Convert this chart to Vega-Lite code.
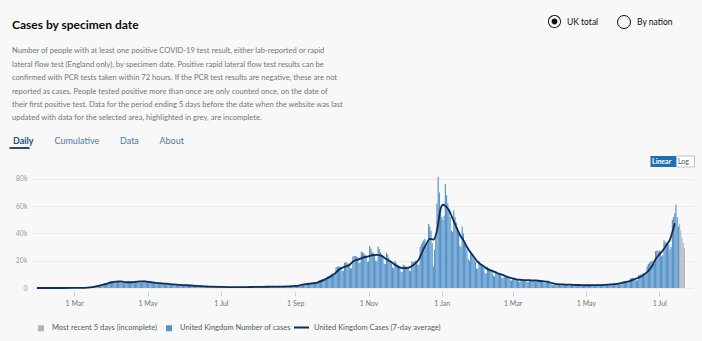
{
  "$schema": "https://vega.github.io/schema/vega-lite/v6.json",
  "width": 661,
  "height": 116,
  "autosize": {"type": "none"},
  "padding": {"left": 32, "top": 172, "right": 9, "bottom": 53},
  "background": "#f8f8f8",
  "config": {
    "font": "Lato",
    "view": {"stroke": null},
    "legend": {"padding": 0, "titlePadding": 0}
  },
  "title": {
    "text": "Cases by specimen date",
    "subtitle": [
      "Number of people with at least one positive COVID-19 test result, either lab-reported or rapid",
      "lateral flow test (England only), by specimen date. Positive rapid lateral flow test results can be",
      "confirmed with PCR tests taken within 72 hours. If the PCR test results are negative, these are not",
      "reported as cases. People tested positive more than once are only counted once, on the date of",
      "their first positive test. Data for the period ending 5 days before the date when the website was last",
      "updated with data for the selected area, highlighted in grey, are incomplete."
    ],
    "anchor": "start",
    "frame": "group",
    "dx": -20,
    "offset": -108,
    "fontSize": 12,
    "fontWeight": "bold",
    "color": "#0b0c0c",
    "subtitleFontSize": 7.6,
    "subtitleColor": "#6f777b",
    "subtitleLineHeight": 13.4,
    "subtitlePadding": 15
  },
  "datasets": {
    "cases": [
      {"date":"2020-01-30","cases":2},{"date":"2020-01-31","cases":0},
      {"date":"2020-02-01","cases":0},{"date":"2020-02-02","cases":0},{"date":"2020-02-03","cases":0},{"date":"2020-02-04","cases":0},{"date":"2020-02-05","cases":0},{"date":"2020-02-06","cases":1},{"date":"2020-02-07","cases":0},{"date":"2020-02-08","cases":1},{"date":"2020-02-09","cases":2},{"date":"2020-02-10","cases":0},{"date":"2020-02-11","cases":1},{"date":"2020-02-12","cases":0},{"date":"2020-02-13","cases":0},{"date":"2020-02-14","cases":0},{"date":"2020-02-15","cases":0},{"date":"2020-02-16","cases":0},{"date":"2020-02-17","cases":0},{"date":"2020-02-18","cases":0},{"date":"2020-02-19","cases":0},{"date":"2020-02-20","cases":0},{"date":"2020-02-21","cases":1},{"date":"2020-02-22","cases":0},{"date":"2020-02-23","cases":0},{"date":"2020-02-24","cases":5},{"date":"2020-02-25","cases":4},{"date":"2020-02-26","cases":6},{"date":"2020-02-27","cases":5},{"date":"2020-02-28","cases":8},{"date":"2020-02-29","cases":12},
      {"date":"2020-03-01","cases":15},{"date":"2020-03-02","cases":30},{"date":"2020-03-03","cases":45},{"date":"2020-03-04","cases":60},{"date":"2020-03-05","cases":80},{"date":"2020-03-06","cases":110},{"date":"2020-03-07","cases":120},{"date":"2020-03-08","cases":150},{"date":"2020-03-09","cases":250},{"date":"2020-03-10","cases":330},{"date":"2020-03-11","cases":400},{"date":"2020-03-12","cases":480},{"date":"2020-03-13","cases":560},{"date":"2020-03-14","cases":600},{"date":"2020-03-15","cases":650},{"date":"2020-03-16","cases":900},{"date":"2020-03-17","cases":1100},{"date":"2020-03-18","cases":1300},{"date":"2020-03-19","cases":1500},{"date":"2020-03-20","cases":1700},{"date":"2020-03-21","cases":1650},{"date":"2020-03-22","cases":1700},{"date":"2020-03-23","cases":2400},{"date":"2020-03-24","cases":2800},{"date":"2020-03-25","cases":3100},{"date":"2020-03-26","cases":3300},{"date":"2020-03-27","cases":3600},{"date":"2020-03-28","cases":3400},{"date":"2020-03-29","cases":3500},{"date":"2020-03-30","cases":4600},{"date":"2020-03-31","cases":4900},
      {"date":"2020-04-01","cases":5100},{"date":"2020-04-02","cases":5200},{"date":"2020-04-03","cases":5000},{"date":"2020-04-04","cases":4300},{"date":"2020-04-05","cases":4200},{"date":"2020-04-06","cases":5200},{"date":"2020-04-07","cases":5300},{"date":"2020-04-08","cases":5100},{"date":"2020-04-09","cases":4800},{"date":"2020-04-10","cases":4200},{"date":"2020-04-11","cases":3700},{"date":"2020-04-12","cases":3400},{"date":"2020-04-13","cases":3800},{"date":"2020-04-14","cases":4700},{"date":"2020-04-15","cases":4800},{"date":"2020-04-16","cases":4600},{"date":"2020-04-17","cases":4500},{"date":"2020-04-18","cases":3900},{"date":"2020-04-19","cases":3700},{"date":"2020-04-20","cases":4900},{"date":"2020-04-21","cases":5300},{"date":"2020-04-22","cases":5200},{"date":"2020-04-23","cases":5000},{"date":"2020-04-24","cases":4800},{"date":"2020-04-25","cases":4200},{"date":"2020-04-26","cases":3900},{"date":"2020-04-27","cases":5100},{"date":"2020-04-28","cases":5400},{"date":"2020-04-29","cases":5200},{"date":"2020-04-30","cases":5000},
      {"date":"2020-05-01","cases":4500},{"date":"2020-05-02","cases":3800},{"date":"2020-05-03","cases":3500},{"date":"2020-05-04","cases":4500},{"date":"2020-05-05","cases":4400},{"date":"2020-05-06","cases":4200},{"date":"2020-05-07","cases":3900},{"date":"2020-05-08","cases":3100},{"date":"2020-05-09","cases":3000},{"date":"2020-05-10","cases":2900},{"date":"2020-05-11","cases":3900},{"date":"2020-05-12","cases":3800},{"date":"2020-05-13","cases":3600},{"date":"2020-05-14","cases":3400},{"date":"2020-05-15","cases":3200},{"date":"2020-05-16","cases":2700},{"date":"2020-05-17","cases":2500},{"date":"2020-05-18","cases":3300},{"date":"2020-05-19","cases":3200},{"date":"2020-05-20","cases":3000},{"date":"2020-05-21","cases":2900},{"date":"2020-05-22","cases":2700},{"date":"2020-05-23","cases":2200},{"date":"2020-05-24","cases":2100},{"date":"2020-05-25","cases":2300},{"date":"2020-05-26","cases":2700},{"date":"2020-05-27","cases":2600},{"date":"2020-05-28","cases":2400},{"date":"2020-05-29","cases":2300},{"date":"2020-05-30","cases":1900},{"date":"2020-05-31","cases":1800},
      {"date":"2020-06-01","cases":2300},{"date":"2020-06-02","cases":2200},{"date":"2020-06-03","cases":2000},{"date":"2020-06-04","cases":1900},{"date":"2020-06-05","cases":1800},{"date":"2020-06-06","cases":1500},{"date":"2020-06-07","cases":1400},{"date":"2020-06-08","cases":1800},{"date":"2020-06-09","cases":1700},{"date":"2020-06-10","cases":1600},{"date":"2020-06-11","cases":1500},{"date":"2020-06-12","cases":1400},{"date":"2020-06-13","cases":1200},{"date":"2020-06-14","cases":1100},{"date":"2020-06-15","cases":1400},{"date":"2020-06-16","cases":1300},{"date":"2020-06-17","cases":1250},{"date":"2020-06-18","cases":1200},{"date":"2020-06-19","cases":1100},{"date":"2020-06-20","cases":900},{"date":"2020-06-21","cases":850},{"date":"2020-06-22","cases":1100},{"date":"2020-06-23","cases":1050},{"date":"2020-06-24","cases":1000},{"date":"2020-06-25","cases":950},{"date":"2020-06-26","cases":900},{"date":"2020-06-27","cases":750},{"date":"2020-06-28","cases":700},{"date":"2020-06-29","cases":900},{"date":"2020-06-30","cases":850},
      {"date":"2020-07-01","cases":820},{"date":"2020-07-02","cases":800},{"date":"2020-07-03","cases":750},{"date":"2020-07-04","cases":620},{"date":"2020-07-05","cases":580},{"date":"2020-07-06","cases":780},{"date":"2020-07-07","cases":760},{"date":"2020-07-08","cases":720},{"date":"2020-07-09","cases":700},{"date":"2020-07-10","cases":650},{"date":"2020-07-11","cases":560},{"date":"2020-07-12","cases":520},{"date":"2020-07-13","cases":720},{"date":"2020-07-14","cases":720},{"date":"2020-07-15","cases":700},{"date":"2020-07-16","cases":680},{"date":"2020-07-17","cases":650},{"date":"2020-07-18","cases":550},{"date":"2020-07-19","cases":530},{"date":"2020-07-20","cases":760},{"date":"2020-07-21","cases":770},{"date":"2020-07-22","cases":740},{"date":"2020-07-23","cases":720},{"date":"2020-07-24","cases":700},{"date":"2020-07-25","cases":600},{"date":"2020-07-26","cases":580},{"date":"2020-07-27","cases":850},{"date":"2020-07-28","cases":860},{"date":"2020-07-29","cases":830},{"date":"2020-07-30","cases":820},{"date":"2020-07-31","cases":780},
      {"date":"2020-08-01","cases":680},{"date":"2020-08-02","cases":650},{"date":"2020-08-03","cases":950},{"date":"2020-08-04","cases":960},{"date":"2020-08-05","cases":940},{"date":"2020-08-06","cases":920},{"date":"2020-08-07","cases":880},{"date":"2020-08-08","cases":760},{"date":"2020-08-09","cases":730},{"date":"2020-08-10","cases":1050},{"date":"2020-08-11","cases":1050},{"date":"2020-08-12","cases":1020},{"date":"2020-08-13","cases":1000},{"date":"2020-08-14","cases":950},{"date":"2020-08-15","cases":820},{"date":"2020-08-16","cases":800},{"date":"2020-08-17","cases":1150},{"date":"2020-08-18","cases":1150},{"date":"2020-08-19","cases":1120},{"date":"2020-08-20","cases":1100},{"date":"2020-08-21","cases":1050},{"date":"2020-08-22","cases":900},{"date":"2020-08-23","cases":880},{"date":"2020-08-24","cases":1300},{"date":"2020-08-25","cases":1350},{"date":"2020-08-26","cases":1350},{"date":"2020-08-27","cases":1300},{"date":"2020-08-28","cases":1250},{"date":"2020-08-29","cases":1050},{"date":"2020-08-30","cases":1050},{"date":"2020-08-31","cases":1400},
      {"date":"2020-09-01","cases":2000},{"date":"2020-09-02","cases":2100},{"date":"2020-09-03","cases":2200},{"date":"2020-09-04","cases":2200},{"date":"2020-09-05","cases":1900},{"date":"2020-09-06","cases":2000},{"date":"2020-09-07","cases":3000},{"date":"2020-09-08","cases":3100},{"date":"2020-09-09","cases":3200},{"date":"2020-09-10","cases":3100},{"date":"2020-09-11","cases":3000},{"date":"2020-09-12","cases":2600},{"date":"2020-09-13","cases":2600},{"date":"2020-09-14","cases":3800},{"date":"2020-09-15","cases":3900},{"date":"2020-09-16","cases":4000},{"date":"2020-09-17","cases":4100},{"date":"2020-09-18","cases":4200},{"date":"2020-09-19","cases":3700},{"date":"2020-09-20","cases":3900},{"date":"2020-09-21","cases":5600},{"date":"2020-09-22","cases":5900},{"date":"2020-09-23","cases":6200},{"date":"2020-09-24","cases":6400},{"date":"2020-09-25","cases":6500},{"date":"2020-09-26","cases":5800},{"date":"2020-09-27","cases":6000},{"date":"2020-09-28","cases":8500},{"date":"2020-09-29","cases":9000},{"date":"2020-09-30","cases":9500},
      {"date":"2020-10-01","cases":10500},{"date":"2020-10-02","cases":10800},{"date":"2020-10-03","cases":10000},{"date":"2020-10-04","cases":10500},{"date":"2020-10-05","cases":15000},{"date":"2020-10-06","cases":15500},{"date":"2020-10-07","cases":15800},{"date":"2020-10-08","cases":15500},{"date":"2020-10-09","cases":15000},{"date":"2020-10-10","cases":12500},{"date":"2020-10-11","cases":12500},{"date":"2020-10-12","cases":18500},{"date":"2020-10-13","cases":18800},{"date":"2020-10-14","cases":18500},{"date":"2020-10-15","cases":18000},{"date":"2020-10-16","cases":17500},{"date":"2020-10-17","cases":14500},{"date":"2020-10-18","cases":14500},{"date":"2020-10-19","cases":23000},{"date":"2020-10-20","cases":23500},{"date":"2020-10-21","cases":23500},{"date":"2020-10-22","cases":23000},{"date":"2020-10-23","cases":22500},{"date":"2020-10-24","cases":18500},{"date":"2020-10-25","cases":18500},{"date":"2020-10-26","cases":26500},{"date":"2020-10-27","cases":26000},{"date":"2020-10-28","cases":25500},{"date":"2020-10-29","cases":24500},{"date":"2020-10-30","cases":23500},{"date":"2020-10-31","cases":19000},
      {"date":"2020-11-01","cases":19500},{"date":"2020-11-02","cases":31000},{"date":"2020-11-03","cases":29000},{"date":"2020-11-04","cases":26500},{"date":"2020-11-05","cases":25500},{"date":"2020-11-06","cases":24500},{"date":"2020-11-07","cases":20000},{"date":"2020-11-08","cases":19500},{"date":"2020-11-09","cases":30500},{"date":"2020-11-10","cases":28500},{"date":"2020-11-11","cases":26000},{"date":"2020-11-12","cases":24500},{"date":"2020-11-13","cases":22500},{"date":"2020-11-14","cases":18000},{"date":"2020-11-15","cases":17500},{"date":"2020-11-16","cases":26000},{"date":"2020-11-17","cases":24500},{"date":"2020-11-18","cases":22000},{"date":"2020-11-19","cases":20500},{"date":"2020-11-20","cases":19000},{"date":"2020-11-21","cases":15000},{"date":"2020-11-22","cases":14500},{"date":"2020-11-23","cases":20000},{"date":"2020-11-24","cases":18500},{"date":"2020-11-25","cases":17000},{"date":"2020-11-26","cases":16000},{"date":"2020-11-27","cases":15000},{"date":"2020-11-28","cases":12000},{"date":"2020-11-29","cases":11500},{"date":"2020-11-30","cases":17000},
      {"date":"2020-12-01","cases":16500},{"date":"2020-12-02","cases":16000},{"date":"2020-12-03","cases":15500},{"date":"2020-12-04","cases":15000},{"date":"2020-12-05","cases":12500},{"date":"2020-12-06","cases":12500},{"date":"2020-12-07","cases":19500},{"date":"2020-12-08","cases":19000},{"date":"2020-12-09","cases":19500},{"date":"2020-12-10","cases":20000},{"date":"2020-12-11","cases":20000},{"date":"2020-12-12","cases":17000},{"date":"2020-12-13","cases":17000},{"date":"2020-12-14","cases":30000},{"date":"2020-12-15","cases":32000},{"date":"2020-12-16","cases":34000},{"date":"2020-12-17","cases":35000},{"date":"2020-12-18","cases":36000},{"date":"2020-12-19","cases":30000},{"date":"2020-12-20","cases":32000},{"date":"2020-12-21","cases":47000},{"date":"2020-12-22","cases":45000},{"date":"2020-12-23","cases":42000},{"date":"2020-12-24","cases":33000},{"date":"2020-12-25","cases":16000},{"date":"2020-12-26","cases":28000},{"date":"2020-12-27","cases":38000},{"date":"2020-12-28","cases":62000},{"date":"2020-12-29","cases":81500},{"date":"2020-12-30","cases":70000},{"date":"2020-12-31","cases":58000},
      {"date":"2021-01-01","cases":52000},{"date":"2021-01-02","cases":50000},{"date":"2021-01-03","cases":53000},{"date":"2021-01-04","cases":76000},{"date":"2021-01-05","cases":68000},{"date":"2021-01-06","cases":62000},{"date":"2021-01-07","cases":57000},{"date":"2021-01-08","cases":52000},{"date":"2021-01-09","cases":42000},{"date":"2021-01-10","cases":41000},{"date":"2021-01-11","cases":57000},{"date":"2021-01-12","cases":52000},{"date":"2021-01-13","cases":48000},{"date":"2021-01-14","cases":44000},{"date":"2021-01-15","cases":40000},{"date":"2021-01-16","cases":31000},{"date":"2021-01-17","cases":30000},{"date":"2021-01-18","cases":45000},{"date":"2021-01-19","cases":40000},{"date":"2021-01-20","cases":34000},{"date":"2021-01-21","cases":31000},{"date":"2021-01-22","cases":28000},{"date":"2021-01-23","cases":21000},{"date":"2021-01-24","cases":20000},{"date":"2021-01-25","cases":27000},{"date":"2021-01-26","cases":25000},{"date":"2021-01-27","cases":23000},{"date":"2021-01-28","cases":21000},{"date":"2021-01-29","cases":19000},{"date":"2021-01-30","cases":14500},{"date":"2021-01-31","cases":14000},
      {"date":"2021-02-01","cases":20000},{"date":"2021-02-02","cases":18500},{"date":"2021-02-03","cases":17000},{"date":"2021-02-04","cases":16000},{"date":"2021-02-05","cases":14500},{"date":"2021-02-06","cases":11000},{"date":"2021-02-07","cases":10500},{"date":"2021-02-08","cases":15500},{"date":"2021-02-09","cases":14500},{"date":"2021-02-10","cases":13500},{"date":"2021-02-11","cases":12500},{"date":"2021-02-12","cases":11500},{"date":"2021-02-13","cases":9000},{"date":"2021-02-14","cases":8500},{"date":"2021-02-15","cases":12500},{"date":"2021-02-16","cases":11500},{"date":"2021-02-17","cases":11000},{"date":"2021-02-18","cases":10500},{"date":"2021-02-19","cases":9500},{"date":"2021-02-20","cases":7500},{"date":"2021-02-21","cases":7200},{"date":"2021-02-22","cases":9800},{"date":"2021-02-23","cases":9000},{"date":"2021-02-24","cases":8400},{"date":"2021-02-25","cases":7900},{"date":"2021-02-26","cases":7400},{"date":"2021-02-27","cases":5700},{"date":"2021-02-28","cases":5400},
      {"date":"2021-03-01","cases":7300},{"date":"2021-03-02","cases":6900},{"date":"2021-03-03","cases":6600},{"date":"2021-03-04","cases":6200},{"date":"2021-03-05","cases":5900},{"date":"2021-03-06","cases":4700},{"date":"2021-03-07","cases":4400},{"date":"2021-03-08","cases":6700},{"date":"2021-03-09","cases":6400},{"date":"2021-03-10","cases":6100},{"date":"2021-03-11","cases":5900},{"date":"2021-03-12","cases":5600},{"date":"2021-03-13","cases":4400},{"date":"2021-03-14","cases":4200},{"date":"2021-03-15","cases":6400},{"date":"2021-03-16","cases":6100},{"date":"2021-03-17","cases":5900},{"date":"2021-03-18","cases":5700},{"date":"2021-03-19","cases":5400},{"date":"2021-03-20","cases":4300},{"date":"2021-03-21","cases":4200},{"date":"2021-03-22","cases":6100},{"date":"2021-03-23","cases":5800},{"date":"2021-03-24","cases":5500},{"date":"2021-03-25","cases":5200},{"date":"2021-03-26","cases":4900},{"date":"2021-03-27","cases":3800},{"date":"2021-03-28","cases":3600},{"date":"2021-03-29","cases":4900},{"date":"2021-03-30","cases":4500},{"date":"2021-03-31","cases":4200},
      {"date":"2021-04-01","cases":3800},{"date":"2021-04-02","cases":2600},{"date":"2021-04-03","cases":2300},{"date":"2021-04-04","cases":1900},{"date":"2021-04-05","cases":2100},{"date":"2021-04-06","cases":3300},{"date":"2021-04-07","cases":3100},{"date":"2021-04-08","cases":2900},{"date":"2021-04-09","cases":2700},{"date":"2021-04-10","cases":2100},{"date":"2021-04-11","cases":1900},{"date":"2021-04-12","cases":3100},{"date":"2021-04-13","cases":2900},{"date":"2021-04-14","cases":2700},{"date":"2021-04-15","cases":2500},{"date":"2021-04-16","cases":2400},{"date":"2021-04-17","cases":1800},{"date":"2021-04-18","cases":1700},{"date":"2021-04-19","cases":2800},{"date":"2021-04-20","cases":2600},{"date":"2021-04-21","cases":2500},{"date":"2021-04-22","cases":2400},{"date":"2021-04-23","cases":2200},{"date":"2021-04-24","cases":1700},{"date":"2021-04-25","cases":1600},{"date":"2021-04-26","cases":2500},{"date":"2021-04-27","cases":2400},{"date":"2021-04-28","cases":2300},{"date":"2021-04-29","cases":2200},{"date":"2021-04-30","cases":2100},
      {"date":"2021-05-01","cases":1600},{"date":"2021-05-02","cases":1500},{"date":"2021-05-03","cases":1700},{"date":"2021-05-04","cases":2500},{"date":"2021-05-05","cases":2400},{"date":"2021-05-06","cases":2300},{"date":"2021-05-07","cases":2200},{"date":"2021-05-08","cases":1700},{"date":"2021-05-09","cases":1700},{"date":"2021-05-10","cases":2600},{"date":"2021-05-11","cases":2600},{"date":"2021-05-12","cases":2500},{"date":"2021-05-13","cases":2400},{"date":"2021-05-14","cases":2300},{"date":"2021-05-15","cases":1900},{"date":"2021-05-16","cases":1800},{"date":"2021-05-17","cases":2900},{"date":"2021-05-18","cases":2900},{"date":"2021-05-19","cases":2800},{"date":"2021-05-20","cases":2800},{"date":"2021-05-21","cases":2700},{"date":"2021-05-22","cases":2100},{"date":"2021-05-23","cases":2100},{"date":"2021-05-24","cases":3500},{"date":"2021-05-25","cases":3500},{"date":"2021-05-26","cases":3400},{"date":"2021-05-27","cases":3400},{"date":"2021-05-28","cases":3300},{"date":"2021-05-29","cases":2700},{"date":"2021-05-30","cases":2600},{"date":"2021-05-31","cases":3300},
      {"date":"2021-06-01","cases":4800},{"date":"2021-06-02","cases":4900},{"date":"2021-06-03","cases":5000},{"date":"2021-06-04","cases":5000},{"date":"2021-06-05","cases":4000},{"date":"2021-06-06","cases":4000},{"date":"2021-06-07","cases":7000},{"date":"2021-06-08","cases":7200},{"date":"2021-06-09","cases":7300},{"date":"2021-06-10","cases":7300},{"date":"2021-06-11","cases":7000},{"date":"2021-06-12","cases":5500},{"date":"2021-06-13","cases":5500},{"date":"2021-06-14","cases":9500},{"date":"2021-06-15","cases":9800},{"date":"2021-06-16","cases":10000},{"date":"2021-06-17","cases":10500},{"date":"2021-06-18","cases":11000},{"date":"2021-06-19","cases":9000},{"date":"2021-06-20","cases":9500},{"date":"2021-06-21","cases":16000},{"date":"2021-06-22","cases":17500},{"date":"2021-06-23","cases":18500},{"date":"2021-06-24","cases":19500},{"date":"2021-06-25","cases":20000},{"date":"2021-06-26","cases":16500},{"date":"2021-06-27","cases":17500},{"date":"2021-06-28","cases":27000},{"date":"2021-06-29","cases":27500},{"date":"2021-06-30","cases":27000},
      {"date":"2021-07-01","cases":27500},{"date":"2021-07-02","cases":27000},{"date":"2021-07-03","cases":23000},{"date":"2021-07-04","cases":24000},{"date":"2021-07-05","cases":35000},{"date":"2021-07-06","cases":34000},{"date":"2021-07-07","cases":33000},{"date":"2021-07-08","cases":32500},{"date":"2021-07-09","cases":32000},{"date":"2021-07-10","cases":28000},{"date":"2021-07-11","cases":30000},{"date":"2021-07-12","cases":50000},{"date":"2021-07-13","cases":52000},{"date":"2021-07-14","cases":55000},{"date":"2021-07-15","cases":61000},{"date":"2021-07-16","cases":52000},{"date":"2021-07-17","cases":45000}
    ],
    "recent": [
      {"date":"2021-07-18","cases":47000},{"date":"2021-07-19","cases":42000},{"date":"2021-07-20","cases":36500},{"date":"2021-07-21","cases":33000},{"date":"2021-07-22","cases":29000}
    ],
    "avg": [
      {"date":"2020-01-30","cases":0},{"date":"2020-02-20","cases":2},{"date":"2020-03-01","cases":20},{"date":"2020-03-08","cases":110},{"date":"2020-03-12","cases":300},{"date":"2020-03-16","cases":700},{"date":"2020-03-20","cases":1300},{"date":"2020-03-24","cases":2200},{"date":"2020-03-28","cases":3100},{"date":"2020-04-01","cases":4100},{"date":"2020-04-05","cases":4700},{"date":"2020-04-09","cases":4800},{"date":"2020-04-13","cases":4200},{"date":"2020-04-17","cases":4200},{"date":"2020-04-21","cases":4500},{"date":"2020-04-25","cases":4800},{"date":"2020-04-29","cases":4800},{"date":"2020-05-03","cases":4400},{"date":"2020-05-08","cases":3700},{"date":"2020-05-13","cases":3400},{"date":"2020-05-18","cases":3000},{"date":"2020-05-23","cases":2600},{"date":"2020-05-28","cases":2300},{"date":"2020-06-03","cases":2000},{"date":"2020-06-10","cases":1600},{"date":"2020-06-17","cases":1250},{"date":"2020-06-24","cases":950},{"date":"2020-07-01","cases":820},{"date":"2020-07-08","cases":700},{"date":"2020-07-15","cases":660},{"date":"2020-07-22","cases":680},{"date":"2020-07-29","cases":760},{"date":"2020-08-05","cases":880},{"date":"2020-08-12","cases":950},{"date":"2020-08-19","cases":1050},{"date":"2020-08-26","cases":1200},{"date":"2020-09-01","cases":1500},{"date":"2020-09-05","cases":2000},{"date":"2020-09-10","cases":2800},{"date":"2020-09-15","cases":3400},{"date":"2020-09-20","cases":4200},{"date":"2020-09-25","cases":6000},{"date":"2020-09-30","cases":8200},{"date":"2020-10-04","cases":10500},{"date":"2020-10-08","cases":14000},{"date":"2020-10-12","cases":15500},{"date":"2020-10-16","cases":16800},{"date":"2020-10-20","cases":20000},{"date":"2020-10-24","cases":21000},{"date":"2020-10-28","cases":22500},{"date":"2020-11-01","cases":23200},{"date":"2020-11-04","cases":24000},{"date":"2020-11-08","cases":24300},{"date":"2020-11-12","cases":23500},{"date":"2020-11-16","cases":21000},{"date":"2020-11-20","cases":19000},{"date":"2020-11-24","cases":16500},{"date":"2020-11-28","cases":14800},{"date":"2020-12-02","cases":14500},{"date":"2020-12-06","cases":15500},{"date":"2020-12-10","cases":18000},{"date":"2020-12-13","cases":21000},{"date":"2020-12-16","cases":27000},{"date":"2020-12-19","cases":32000},{"date":"2020-12-22","cases":36000},{"date":"2020-12-25","cases":35500},{"date":"2020-12-28","cases":42000},{"date":"2020-12-31","cases":58000},{"date":"2021-01-02","cases":61000},{"date":"2021-01-04","cases":60000},{"date":"2021-01-07","cases":57000},{"date":"2021-01-10","cases":51000},{"date":"2021-01-13","cases":45000},{"date":"2021-01-16","cases":39000},{"date":"2021-01-19","cases":35000},{"date":"2021-01-22","cases":30000},{"date":"2021-01-25","cases":26000},{"date":"2021-01-28","cases":22500},{"date":"2021-01-31","cases":19000},{"date":"2021-02-04","cases":16500},{"date":"2021-02-08","cases":14000},{"date":"2021-02-12","cases":12500},{"date":"2021-02-16","cases":11000},{"date":"2021-02-20","cases":9800},{"date":"2021-02-24","cases":8400},{"date":"2021-02-28","cases":7300},{"date":"2021-03-04","cases":6300},{"date":"2021-03-08","cases":6000},{"date":"2021-03-14","cases":5700},{"date":"2021-03-20","cases":5500},{"date":"2021-03-26","cases":5000},{"date":"2021-03-30","cases":4600},{"date":"2021-04-03","cases":3500},{"date":"2021-04-07","cases":2800},{"date":"2021-04-12","cases":2600},{"date":"2021-04-18","cases":2400},{"date":"2021-04-25","cases":2200},{"date":"2021-05-02","cases":2000},{"date":"2021-05-09","cases":2100},{"date":"2021-05-16","cases":2300},{"date":"2021-05-22","cases":2600},{"date":"2021-05-28","cases":3200},{"date":"2021-06-02","cases":4200},{"date":"2021-06-06","cases":4900},{"date":"2021-06-10","cases":6300},{"date":"2021-06-14","cases":7600},{"date":"2021-06-18","cases":9500},{"date":"2021-06-22","cases":12500},{"date":"2021-06-25","cases":16000},{"date":"2021-06-28","cases":21000},{"date":"2021-07-01","cases":24500},{"date":"2021-07-04","cases":27500},{"date":"2021-07-07","cases":31500},{"date":"2021-07-10","cases":35500},{"date":"2021-07-12","cases":41000},{"date":"2021-07-14","cases":47500}
    ]
  },
  "encoding": {
    "x": {
      "field": "date", "type": "temporal",
      "scale": {"type": "utc", "domain": ["2020-01-30", "2021-07-25"]},
      "axis": {
        "title": null, "format": "%-d %b", "tickCount": {"interval": "month", "step": 2},
        "domain": false, "grid": false, "ticks": true, "tickSize": 4, "tickColor": "#c8c8c8",
        "offset": 4, "labelPadding": 3, "labelFontSize": 7, "labelColor": "#6f777b"
      }
    },
    "y": {
      "field": "cases", "type": "quantitative",
      "scale": {"domain": [0, 85000], "nice": false},
      "axis": {
        "title": null, "values": [0, 20000, 40000, 60000, 80000], "tickCount": 5,
        "labelExpr": "datum.value === 0 ? '0' : (datum.value / 1000) + 'k'",
        "labelOverlap": false,
        "domain": false, "ticks": false, "grid": true, "gridColor": "#ececec",
        "labelPadding": 5, "labelFontSize": 7, "labelColor": "#9a9a9a"
      }
    }
  },
  "layer": [
    {
      "data": {"name": "cases"},
      "mark": {"type": "bar", "width": 1.15},
      "encoding": {
        "color": {
          "datum": "United Kingdom Number of cases",
          "scale": {
            "domain": ["Most recent 5 days (incomplete)", "United Kingdom Number of cases"],
            "range": ["#b1b4b6", "#5694ca"]
          },
          "legend": {
            "orient": "none", "legendX": 5, "legendY": 152, "direction": "horizontal", "title": null,
            "labelFontSize": 7.5, "labelColor": "#505a5f", "symbolSize": 36, "symbolType": "square",
            "labelOffset": 7, "columnPadding": 7
          }
        }
      }
    },
    {
      "data": {"name": "recent"},
      "mark": {"type": "bar", "width": 1.15},
      "encoding": {
        "color": {"datum": "Most recent 5 days (incomplete)"}
      }
    },
    {
      "data": {"name": "avg"},
      "mark": {"type": "line", "strokeWidth": 1.8, "interpolate": "monotone"},
      "encoding": {
        "stroke": {
          "datum": "United Kingdom Cases (7-day average)",
          "scale": {"domain": ["United Kingdom Cases (7-day average)"], "range": ["#0e2c5a"]},
          "legend": {
            "orient": "none", "legendX": 261, "legendY": 147, "direction": "horizontal", "title": null,
            "labelFontSize": 7.5, "labelColor": "#505a5f", "symbolType": "stroke", "symbolSize": 225,
            "symbolStrokeWidth": 2, "labelOffset": 4
          }
        }
      }
    },
    {
      "data": {"values": [{"option": "UK total"}]},
      "mark": {"type": "point", "filled": true, "color": "#0b0c0c", "opacity": 0},
      "encoding": {
        "shape": {
          "field": "option", "type": "nominal",
          "scale": {
            "domain": ["UK total"],
            "range": ["M-1,0A1,1 0 1,0 1,0A1,1 0 1,0 -1,0ZM-0.86,0A0.86,0.86 0 1,1 0.86,0A0.86,0.86 0 1,1 -0.86,0ZM-0.45,0A0.45,0.45 0 1,0 0.45,0A0.45,0.45 0 1,0 -0.45,0Z"]
          },
          "legend": {
            "orient": "none", "legendX": 516, "legendY": -157, "title": null,
            "symbolSize": 169, "symbolStrokeWidth": 0, "labelFontSize": 8.5, "labelColor": "#0b0c0c", "labelOffset": 6
          }
        }
      }
    },
    {
      "data": {"values": [{"option": "By nation"}]},
      "mark": {"type": "point", "filled": false, "color": "#0b0c0c", "strokeWidth": 1, "opacity": 0},
      "encoding": {
        "shape": {
          "field": "option", "type": "nominal",
          "scale": {"domain": ["By nation"], "range": ["circle"]},
          "legend": {
            "orient": "none", "legendX": 585, "legendY": -157, "title": null,
            "symbolSize": 169, "symbolStrokeWidth": 1, "labelFontSize": 8.5, "labelColor": "#0b0c0c", "labelOffset": 6
          }
        }
      }
    },
    {
      "data": {"values": [{"tab": "Daily"}]},
      "mark": {"type": "point", "filled": false, "color": "#1d4e89", "strokeWidth": 2, "opacity": 0},
      "encoding": {
        "shape": {
          "field": "tab", "type": "nominal",
          "scale": {"domain": ["Daily"], "range": ["M1,7.5H21"]},
          "legend": {
            "orient": "none", "legendX": -28, "legendY": -36, "title": null,
            "symbolSize": 4, "symbolStrokeWidth": 2, "labelFontSize": 9, "labelFontWeight": "bold",
            "labelColor": "#1d4e89", "labelOffset": 0
          }
        }
      }
    },
    {
      "data": {"values": [{"tab": "Cumulative"}, {"tab": "Data"}, {"tab": "About"}]},
      "mark": {"type": "point", "filled": false, "color": "#4b78a8", "opacity": 0},
      "encoding": {
        "shape": {
          "field": "tab", "type": "nominal",
          "scale": {"domain": ["Cumulative", "Data", "About"], "range": ["M0,0", "M0,0", "M0,0"]},
          "legend": {
            "orient": "none", "legendX": 13.5, "legendY": -36, "direction": "horizontal", "title": null,
            "symbolSize": 4, "labelFontSize": 9, "labelColor": "#4b78a8", "labelOffset": 0, "columnPadding": 11.5
          }
        }
      }
    },
    {
      "data": {"values": [{"scaleType": "Linear"}]},
      "mark": {"type": "point", "filled": true, "color": "#1d70b8", "opacity": 0},
      "encoding": {
        "shape": {
          "field": "scaleType", "type": "nominal",
          "scale": {"domain": ["Linear"], "range": ["M3,-5.5H29V5.5H3Z"]},
          "legend": {
            "orient": "none", "legendX": 612, "legendY": -14, "title": null,
            "symbolSize": 4, "symbolStrokeWidth": 0, "labelFontSize": 7, "labelColor": "#ffffff",
            "labelFontWeight": "bold", "labelOffset": 1
          }
        }
      }
    },
    {
      "data": {"values": [{"scaleType": "Log"}]},
      "mark": {"type": "point", "fill": "#ffffff", "stroke": "#b1b4b6", "strokeWidth": 0.8, "opacity": 0},
      "encoding": {
        "shape": {
          "field": "scaleType", "type": "nominal",
          "scale": {"domain": ["Log"], "range": ["M3,-5.5H21V5.5H3Z"]},
          "legend": {
            "orient": "none", "legendX": 638, "legendY": -14, "title": null,
            "symbolSize": 4, "symbolStrokeWidth": 0.8, "labelFontSize": 7, "labelColor": "#505a5f", "labelOffset": 1
          }
        }
      }
    }
  ],
  "resolve": {"scale": {"shape": "independent"}, "legend": {"shape": "independent"}}
}
